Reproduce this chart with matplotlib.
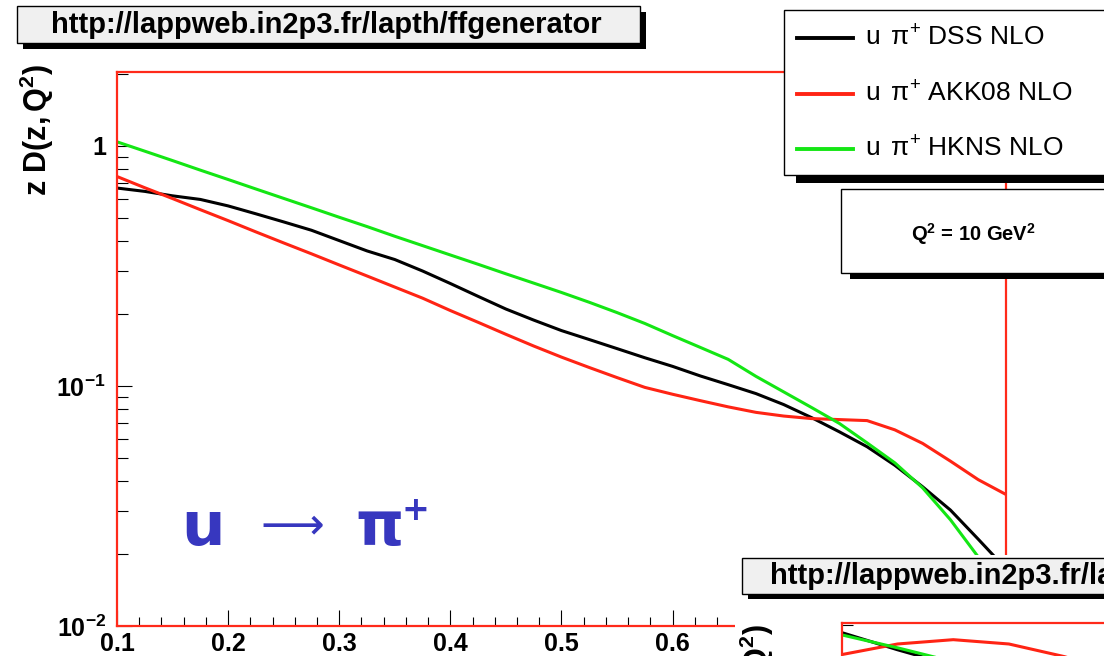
import matplotlib
matplotlib.use('Agg')
import matplotlib.pyplot as plt
from matplotlib.patches import Rectangle
from matplotlib.lines import Line2D
from matplotlib.ticker import FixedLocator, LogLocator, MultipleLocator, NullFormatter

plt.rcParams['font.family'] = ['Liberation Sans', 'DejaVu Sans']
plt.rcParams['mathtext.fontset'] = 'custom'
plt.rcParams['mathtext.rm'] = 'Liberation Sans'
plt.rcParams['mathtext.it'] = 'Liberation Sans:italic'
plt.rcParams['mathtext.bf'] = 'Liberation Sans:bold'

# u -> pi+ fragmentation functions z D(z,Q^2) at Q^2 = 10 GeV^2
z = [0.100, 0.125, 0.150, 0.175, 0.200, 0.225, 0.250, 0.275, 0.300, 0.325,
     0.350, 0.375, 0.400, 0.425, 0.450, 0.475, 0.500, 0.525, 0.550, 0.575,
     0.600, 0.625, 0.650, 0.675, 0.700, 0.725, 0.750, 0.775, 0.800, 0.825,
     0.850, 0.875, 0.900]
dss = [0.667, 0.646, 0.619, 0.598, 0.562, 0.521, 0.482, 0.445, 0.403, 0.365,
       0.336, 0.301, 0.267, 0.236, 0.209, 0.188, 0.170, 0.156, 0.143, 0.131,
       0.1206, 0.110, 0.1012, 0.0929, 0.0836, 0.0738, 0.0644, 0.0558, 0.0467, 0.0380,
       0.0304, 0.0230, 0.0173]
akk08 = [0.745, 0.669, 0.603, 0.542, 0.488, 0.438, 0.394, 0.355, 0.319, 0.287,
         0.258, 0.232, 0.206, 0.184, 0.164, 0.1466, 0.1318, 0.1193, 0.1083, 0.0986,
         0.0923, 0.0868, 0.0818, 0.0776, 0.0749, 0.0731, 0.0724, 0.0717, 0.0656, 0.0576,
         0.0486, 0.0407, 0.0353]
hkns = [1.039, 0.950, 0.868, 0.792, 0.724, 0.661, 0.604, 0.552, 0.504, 0.461,
        0.420, 0.384, 0.351, 0.321, 0.293, 0.268, 0.245, 0.223, 0.202, 0.182,
        0.162, 0.1446, 0.129, 0.1096, 0.0944, 0.0813, 0.0698, 0.0579, 0.0478, 0.0376,
        0.0277, 0.0194, 0.0133]

# second panel (only its top-left corner is on the canvas)
z2 = [0.10, 0.15, 0.20, 0.25, 0.30, 0.35, 0.40, 0.50]
dss2 = [1.85, 1.57, 1.35, 1.12, 0.92, 0.76, 0.62, 0.42]
akk2 = [1.50, 1.66, 1.73, 1.66, 1.47, 1.25, 1.05, 0.72]
hkns2 = [1.81, 1.60, 1.40, 1.20, 1.00, 0.83, 0.68, 0.45]

series = ['DSS NLO', 'AKK08 NLO', 'HKNS NLO']
colors = ['black', '#ff2414', '#14e614']

# labels past 0.6 sit under the second panel
xticks = [0.1, 0.2, 0.3, 0.4, 0.5, 0.6, 0.7, 0.8, 0.9]
xlabels = ['0.1', '0.2', '0.3', '0.4', '0.5', '0.6', '', '', '']
yticks = [0.01, 0.1, 1]
ylabels = [r'$\mathbf{10^{-2}}$', r'$\mathbf{10^{-1}}$', '1']

url = 'http://lappweb.in2p3.fr/lapth/ffgenerator'
ytitle = r'$\mathbf{z\ D(z,Q^{2})}$'
W, H = 1104, 656
frame_red = '#ff2a1a'

fig = plt.figure(figsize=(W / 100, H / 100), dpi=100)


def fbox(x0, y0, x1, y1):
    # pixel box (origin top-left) -> figure fraction rect
    return [x0 / W, 1 - y1 / H, (x1 - x0) / W, (y1 - y0) / H]


def style_frame(a):
    a.set_yscale('log')
    a.set_xlim(0.1, 0.9)
    a.set_ylim(0.01, 2.03)
    for s in a.spines.values():
        s.set_color(frame_red)
        s.set_linewidth(1.6)
    a.plot([0, 0], [0, 1], transform=a.transAxes, color='k', lw=0.7, clip_on=False)
    a.plot([0, 1], [0, 0], transform=a.transAxes, color='k', lw=0.7, clip_on=False)
    a.xaxis.set_minor_locator(MultipleLocator(0.02))
    a.yaxis.set_minor_locator(LogLocator(base=10, subs=range(2, 10)))
    a.yaxis.set_minor_formatter(NullFormatter())
    a.tick_params(axis='x', which='major', direction='in', length=11.5, width=0.8, pad=4)
    a.tick_params(axis='x', which='minor', direction='in', length=6.5, width=0.8)
    a.tick_params(axis='y', which='major', direction='in', length=11, width=0.8, pad=8)
    a.tick_params(axis='y', which='minor', direction='in', length=8, width=0.8)


def shadow_box(x0, y0, x1, y1, dx, dy, face, zo):
    w, h = (x1 - x0) / W, (y1 - y0) / H
    fig.add_artist(Rectangle(((x0 + dx) / W, 1 - (y1 + dy) / H), w, h,
                             transform=fig.transFigure, facecolor='black',
                             edgecolor='none', zorder=zo))
    fig.add_artist(Rectangle((x0 / W, 1 - y1 / H), w, h, transform=fig.transFigure,
                             facecolor=face, edgecolor='black', lw=1, zorder=zo + 0.1))


# main frame
ax = fig.add_axes(fbox(117, 72, 1006, 626))
ax.set_zorder(0)
style_frame(ax)
for vals, col in zip([dss, akk08, hkns], colors):
    ax.plot(z, vals, color=col, lw=2.2)
ax.yaxis.set_major_locator(FixedLocator(yticks))
ax.set_xticks(xticks, xlabels, fontsize=18, fontweight='bold')
ax.set_yticks(yticks, ylabels, fontsize=18, fontweight='bold')

fig.text(37 / W, 1 - 64 / H, ytitle, rotation=90, ha='center', va='top', fontsize=22)

# u -> pi+ annotation
blue = '#3737bf'
fig.text(203 / W, 1 - 545 / H, 'u', ha='center', va='baseline', fontsize=44,
         fontweight='bold', color=blue, family='DejaVu Sans', zorder=5)
fig.text(292 / W, 1 - 538 / H, '⟶', ha='center', va='baseline', fontsize=32,
         color=blue, family='DejaVu Sans', zorder=5)
fig.text(380 / W, 1 - 545 / H, 'π', ha='center', va='baseline', fontsize=44,
         fontweight='bold', color=blue, family='DejaVu Sans', zorder=5)
fig.text(415 / W, 1 - 511 / H, '+', ha='center', va='center', fontsize=24,
         fontweight='bold', color=blue, family='DejaVu Sans', zorder=5)

# lower-right panel sits on top of the main one
fig.add_artist(Rectangle((735 / W, 0), (W - 735) / W, 1 - 555 / H, transform=fig.transFigure,
                         facecolor='white', edgecolor='none', zorder=2))
ax2 = fig.add_axes(fbox(842, 623, 1732, 1177))
ax2.set_zorder(3)
style_frame(ax2)
for vals, col in zip([dss2, akk2, hkns2], colors):
    ax2.plot(z2, vals, color=col, lw=2.2)
ax2.set_xticklabels([])
ax2.set_yticklabels([])
fig.text(757 / W, 1 - 624 / H, ytitle, rotation=90, ha='center', va='top',
         fontsize=22, zorder=5)
shadow_box(742, 558, 1115, 594, 6, 5, '#f0f0f0', 4)
fig.text(770 / W, 1 - 576 / H, url, ha='left', va='center', fontsize=21,
         fontweight='bold', zorder=5)

# title banner
shadow_box(17, 6, 640, 43, 6, 6, '#f0f0f0', 4)
fig.text(326 / W, 1 - 25 / H, url, ha='center', va='center', fontsize=21,
         fontweight='bold', zorder=5)

# legend
shadow_box(784, 10, 1115, 175, 12, 8, 'white', 4)
for i, (lab, col) in enumerate(zip(series, colors)):
    yy = 1 - (38 + 55.5 * i) / H
    fig.add_artist(Line2D([797 / W, 853 / W], [yy, yy], color=col, lw=2.8, zorder=5))
    fig.text(865 / W, yy, r'u $\,\mathrm{\pi}^{+}$ ' + lab, ha='left', va='center',
             fontsize=19, zorder=5)

# scale box
shadow_box(841, 189, 1115, 273, 9, 6, 'white', 4)
fig.text(973 / W, 1 - 234 / H, r'Q$\mathbf{^{2}}$ = 10 GeV$\mathbf{^{2}}$', ha='center',
         va='center', fontsize=14.5, fontweight='bold', zorder=5)

fig.savefig('out.png', dpi=100)
